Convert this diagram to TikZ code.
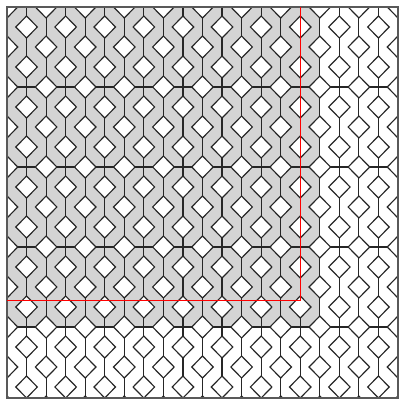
\documentclass[tikz,border=0pt]{standalone}
\begin{document}
\begin{tikzpicture}[x=0.5cm,y=-0.5115cm,
    tile/.style={draw=black!85,line width=0.85pt},
    frameline/.style={draw=black!65,line width=0.9pt},
    redline/.style={draw=red,line width=0.9pt}]
    \useasboundingbox (-0.358,-0.35) rectangle (20.0,19.6);
    \coordinate (NW) at (0,0);
    \coordinate (SE) at (20,19.55);
    \coordinate (G) at (16,16);
    \coordinate (T) at (15,0);
    \coordinate (C) at (15,14.66);
    \coordinate (L) at (0,14.66);
    \def\d{0.55}

    \begin{scope}
        \clip (NW) rectangle (SE);
        \fill[black!17] (NW) rectangle (G);
        \foreach \i in {0,...,20}
            \draw[tile] (\i,0) -- (\i,20);
        \foreach \j in {4,8,12,16}
            \draw[tile] (0,\j) -- (20,\j);
        % white diamonds on the checkerboard
        \foreach \i in {0,...,20}
            \foreach \j in {0,...,20}{
                \pgfmathtruncatemacro\s{\i+\j}
                \ifodd\s\else
                    \filldraw[tile,fill=white] (\i-\d,\j) -- (\i,\j-\d)
                        -- (\i+\d,\j) -- (\i,\j+\d) -- cycle;
                \fi
            }
    \end{scope}

    \draw[frameline] (NW) rectangle (SE);
    \draw[redline] (T) -- (C) -- (L);
\end{tikzpicture}
\end{document}
